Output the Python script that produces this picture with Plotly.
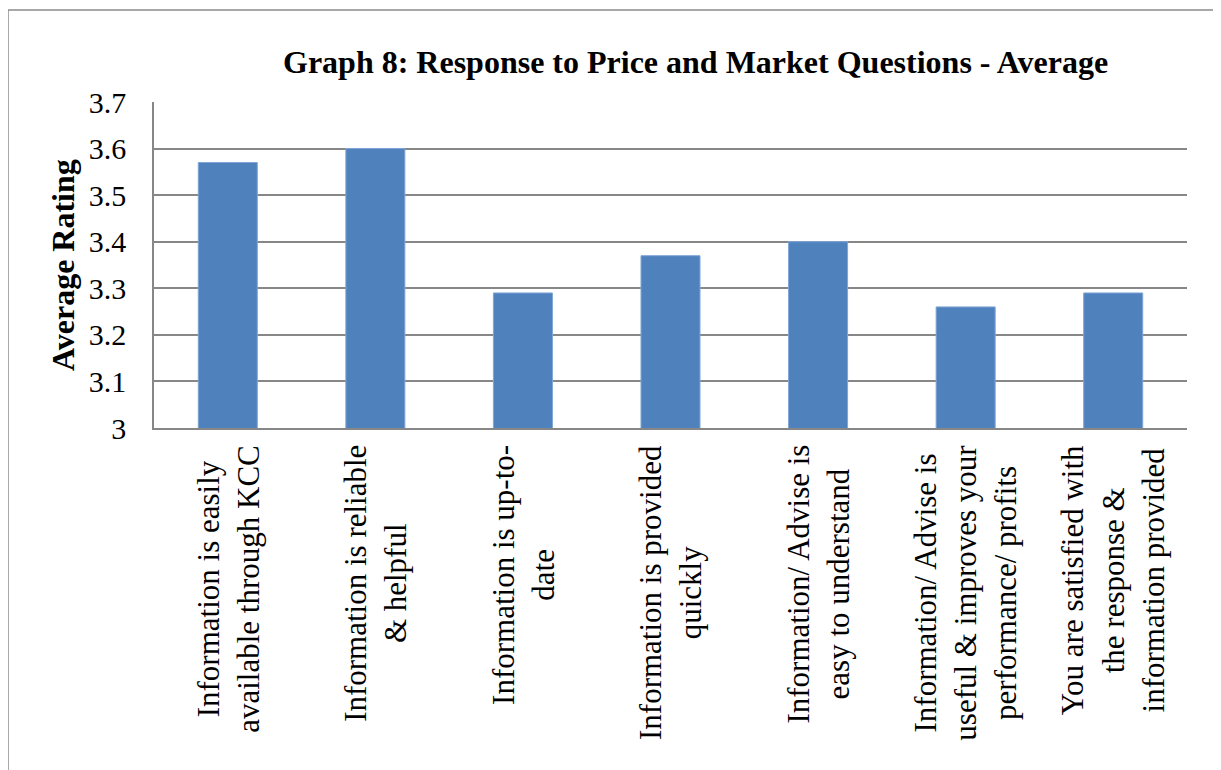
import plotly.graph_objects as go

categories = [
    "Information is easily<br>available through KCC",
    "Information is reliable<br>& helpful",
    "Information is up-to-<br>date",
    "Information is provided<br>quickly",
    "Information/ Advise is<br>easy to understand",
    "Information/ Advise is<br>useful & improves your<br>performance/ profits",
    "You are satisfied with<br>the response &<br>information provided",
]
values = [3.57, 3.60, 3.29, 3.37, 3.40, 3.26, 3.29]
y_ticks = [3.0, 3.1, 3.2, 3.3, 3.4, 3.5, 3.6, 3.7]
y_tick_text = ["3", "3.1", "3.2", "3.3", "3.4", "3.5", "3.6", "3.7"]
title_text = "Graph 8: Response to Price and Market Questions - Average"
y_title = "Average Rating"

# page has an 8px body margin, so figure coords = page coords - 8
OFF = 8
W, H = 1221 - OFF, 770 - OFF
L, R, T, B = 154 - OFF, 1187 - OFF, 102 - OFF, 428 - OFF
SERIF = "Liberation Serif, Times New Roman, serif"

xs = list(range(len(categories)))

fig = go.Figure()
fig.add_trace(go.Bar(
    x=xs, y=values, base=0,
    marker=dict(color="#4F81BD", line=dict(color="#7FA6D6", width=1)),
    width=0.4,
))


def px2paper_x(px):
    return (px - OFF - L) / (R - L)


def px2paper_y(py):
    return (B - (py - OFF)) / (B - T)


annotations = []
for i, c in enumerate(categories):
    annotations.append(dict(
        x=i, xref="x", y=px2paper_y(443), yref="paper",
        text=c, showarrow=False, textangle=-90,
        xanchor="center", yanchor="top", align="center",
        font=dict(family=SERIF, size=31, color="#000000"),
    ))
annotations.append(dict(
    x=px2paper_x(695), xref="paper", y=px2paper_y(62), yref="paper",
    text="<b>" + title_text + "</b>", showarrow=False,
    xanchor="center", yanchor="middle",
    font=dict(family=SERIF, size=32, color="#000000"),
))
annotations.append(dict(
    x=px2paper_x(63), xref="paper", y=px2paper_y(265), yref="paper",
    text="<b>" + y_title + "</b>", showarrow=False, textangle=-90,
    xanchor="center", yanchor="middle",
    font=dict(family=SERIF, size=32, color="#000000"),
))

fig.update_layout(
    width=W, height=H,
    margin=dict(l=L, r=W - R, t=T, b=H - B, pad=0),
    paper_bgcolor="white", plot_bgcolor="white",
    showlegend=False,
    bargap=0.6,
    annotations=annotations,
    shapes=[dict(
        type="rect", xref="paper", yref="paper",
        x0=px2paper_x(8), x1=px2paper_x(1215),
        y0=px2paper_y(800), y1=px2paper_y(10),
        line=dict(color="#8C8C8C", width=1.5), fillcolor="rgba(0,0,0,0)",
        layer="below",
    )],
)
fig.update_xaxes(
    range=[-0.5, len(categories) - 0.5],
    showticklabels=False, showgrid=False,
    showline=True, linecolor="#878787", linewidth=1.5,
    ticks="", zeroline=False,
)
fig.update_yaxes(
    range=[3.0, 3.7],
    tickvals=y_ticks, ticktext=y_tick_text,
    showgrid=True, gridcolor="#878787", gridwidth=1.5,
    showline=True, linecolor="#878787", linewidth=1.5,
    ticks="",
    tickfont=dict(family=SERIF, size=30, color="#000000"),
    ticklabelstandoff=20,
    zeroline=False,
)

fig.write_html("out.html")
